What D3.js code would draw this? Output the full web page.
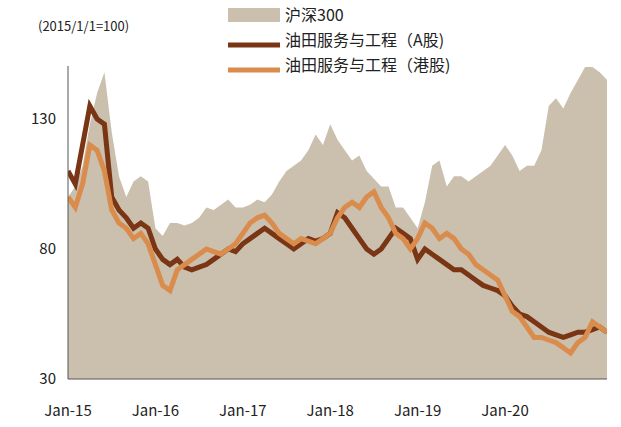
<!DOCTYPE html>
<html lang="zh">
<head>
<meta charset="UTF-8">
<script src="https://d3js.org/d3.v7.min.js"></script>
<style>
  body { margin: 0; background: #fff; font-family: "Noto Sans CJK SC", "Noto Sans", sans-serif; }
</style>
</head>
<body>
<div id="chart"></div>
<script>
// monthly values, Jan-2015 .. Mar-2021 (2015/1/1 = 100)
const hs300 = [
  100,104,112,128,140,148,125,108,100,106,108,106,
  88,85,90,90,89,90,92,96,95,97,99,96,
  96,97,99,98,101,106,110,112,114,118,124,120,
  128,122,118,114,116,110,107,104,104,96,96,92,
  88,98,112,114,104,108,108,106,108,110,112,116,
  120,116,110,112,112,118,135,138,134,140,145,150,
  152,148,145
];
const oilA = [
  110,105,120,135,130,128,100,95,92,88,90,88,
  80,76,74,76,73,72,73,74,76,78,80,79,
  82,84,86,88,86,84,82,80,82,84,83,84,
  86,94,92,88,84,80,78,80,84,88,86,84,
  76,80,78,76,74,72,72,70,68,66,65,64,
  62,58,55,54,52,50,48,47,46,47,48,48,
  49,50,48
];
const oilHK = [
  100,96,105,120,118,110,95,90,88,84,86,82,
  74,66,64,72,74,76,78,80,79,78,80,82,
  86,90,92,93,90,86,84,82,84,83,82,84,
  86,92,96,98,96,100,102,96,92,86,84,80,
  84,90,88,84,86,84,80,78,74,72,70,68,
  62,56,54,50,46,46,45,44,42,40,44,46,
  52,50,48
];
const yTicks = [30, 80, 130];
const xTickLabels = ["Jan-15", "Jan-16", "Jan-17", "Jan-18", "Jan-19", "Jan-20"];
const legendNames = ["沪深300", "油田服务与工程（A股)", "油田服务与工程（港股)"];

const W = 621, H = 427;
const svg = d3.select("#chart").append("svg").attr("width", W).attr("height", H);

const x = d3.scaleLinear().domain([0, 74]).range([68, 607]);
const y = d3.scaleLinear().domain([30, 130]).range([379, 119]);
const yc = v => y(Math.min(v, 150));

svg.append("defs").append("clipPath").attr("id", "clip")
  .append("rect").attr("x", 68).attr("y", 66).attr("width", 539).attr("height", 313);

const g = svg.append("g").attr("clip-path", "url(#clip)");

g.append("path").datum(hs300)
  .attr("fill", "#cbbfae")
  .attr("d", d3.area().x((d, i) => x(i)).y0(379).y1(d => yc(d)));

g.append("path").datum(oilA)
  .attr("fill", "none").attr("stroke", "#7a3514").attr("stroke-width", 5)
  .attr("d", d3.line().x((d, i) => x(i)).y(d => y(d)));

g.append("path").datum(oilHK)
  .attr("fill", "none").attr("stroke", "#d98c4c").attr("stroke-width", 5)
  .attr("d", d3.line().x((d, i) => x(i)).y(d => y(d)));

// axes
svg.append("line").attr("x1", 68).attr("x2", 68).attr("y1", 66).attr("y2", 379)
  .attr("stroke", "#555");
svg.append("line").attr("x1", 68).attr("x2", 607).attr("y1", 379).attr("y2", 379)
  .attr("stroke", "#555");

svg.selectAll(".yt").data(yTicks).enter().append("text")
  .attr("x", 56).attr("y", d => y(d) + 5).attr("text-anchor", "end")
  .attr("font-size", 15).attr("fill", "#222").text(d => d);

svg.selectAll(".xt").data(xTickLabels).enter().append("text")
  .attr("x", (d, i) => x(i * 12)).attr("y", 416).attr("text-anchor", "middle")
  .attr("font-size", 15).attr("fill", "#222").text(d => d);

svg.append("text").attr("x", 38).attr("y", 31).attr("font-size", 13)
  .attr("fill", "#222").text("(2015/1/1=100)");

// legend
const lg = svg.append("g");
lg.append("rect").attr("x", 228).attr("y", 8).attr("width", 52).attr("height", 14).attr("fill", "#cbbfae");
lg.append("line").attr("x1", 228).attr("x2", 280).attr("y1", 45).attr("y2", 45)
  .attr("stroke", "#7a3514").attr("stroke-width", 5);
lg.append("line").attr("x1", 228).attr("x2", 280).attr("y1", 70).attr("y2", 70)
  .attr("stroke", "#d98c4c").attr("stroke-width", 5);
lg.selectAll("text").data(legendNames).enter().append("text")
  .attr("x", 285).attr("y", (d, i) => 21 + i * 25)
  .attr("font-size", 16).attr("fill", "#222").text(d => d);
</script>
</body>
</html>
